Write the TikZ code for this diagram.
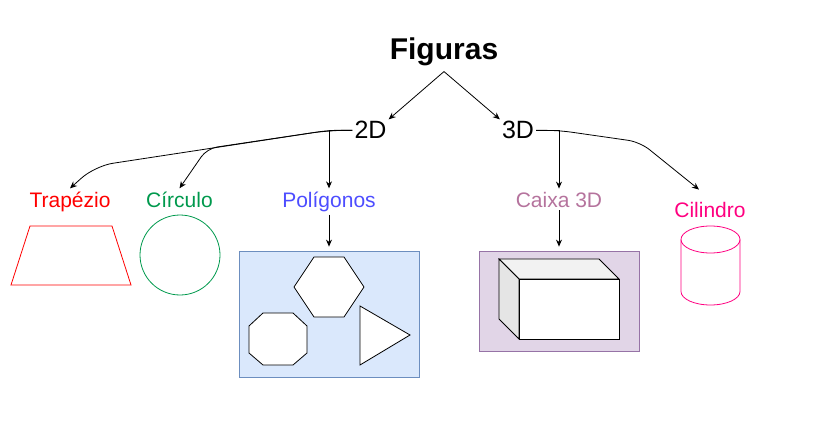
\documentclass[tikz,border=0pt]{standalone}
\usepackage{fontspec}
\setmainfont{Liberation Sans}
\usetikzlibrary{arrows.meta}

\definecolor{trapred}{HTML}{FF0000}
\definecolor{circgreen}{HTML}{00994D}
\definecolor{polyblue}{HTML}{4D4DFF}
\definecolor{boxpurple}{HTML}{B5739D}
\definecolor{cylpink}{HTML}{FF0080}
\definecolor{bluefill}{HTML}{DAE8FC}
\definecolor{bluedraw}{HTML}{6C8EBF}
\definecolor{purplefill}{HTML}{E1D5E7}
\definecolor{purpledraw}{HTML}{9673A6}

\tikzset{
    leaf/.style={inner sep=3pt, anchor=base, font=\fontsize{21}{25}\selectfont},
    branch/.style={inner sep=2pt, anchor=base, font=\fontsize{25}{29}\selectfont},
    conn/.style={line width=0.8pt, -{Stealth[length=7pt,width=6pt]}},
    outline/.style={line width=0.8pt, line join=miter},
    panel/.style={draw, line width=0.8pt, inner sep=0pt},
}

\begin{document}
\begin{tikzpicture}[x=1pt, y=-1pt]
    % Page frame
    \useasboundingbox (0,0) rectangle (820,444);

    % Title and the two branches
    \node[inner sep=5pt, anchor=base, font=\bfseries\fontsize{30}{34}\selectfont] (fig) at (444,60) {Figuras};
    \node[branch] (d2) at (370.5,139) {2D};
    \node[branch] (d3) at (518,139) {3D};

    % Leaves
    \node[leaf, text=trapred] (trap) at (70,207) {Trapézio};
    \node[leaf, text=circgreen] (circ) at (179.5,207) {Círculo};
    \node[leaf, text=polyblue] (pol) at (329,207) {Polígonos};
    \node[leaf, text=boxpurple] (cx) at (559,207) {Caixa 3D};
    \node[leaf, text=cylpink] (cil) at (710,217) {Cilindro};

    % Panels under the labels
    \node[panel, draw=bluedraw, fill=bluefill, minimum width=180pt, minimum height=126pt] (polybox) at (329,314) {};
    \node[panel, draw=purpledraw, fill=purplefill, minimum width=160pt, minimum height=100pt] (cxbox) at (559,301) {};

    % Junctions on the lines
    \coordinate (j2) at (pol.north |- d2.west);
    \coordinate (j3) at (cx.north |- d3.east);
    \coordinate (ktrap) at (95,166);
    \coordinate (kcirc) at (207,148.5);
    \coordinate (kcil) at (640,142);

    % Connectors
    \draw[conn] (fig.south) -- (d2.north east);
    \draw[conn] (fig.south) -- (d3.north west);
    \draw[conn, rounded corners=18pt] (d2.west) -- (j2) -- (ktrap) -- (trap.north);
    \draw[conn, rounded corners=10pt] (d2.west) -- (j2) -- (kcirc) -- (circ.north);
    \draw[conn] (d2.west) -- (j2) -- (pol.north);
    \draw[conn] (d3.east) -- (j3) -- (cx.north);
    \draw[conn, rounded corners=12pt] (d3.east) -- (j3) -- (kcil) -- ([shift={(-11,-9)}]cil.north);
    \draw[conn, shorten >=4pt] (pol.south) -- (polybox.north);
    \draw[conn, shorten >=4pt] (cx.south) -- (cxbox.north);

    % Trapezoid
    \draw[outline, trapred] (30,226) -- (112,226) -- (131,285) -- (11,285) -- cycle;

    % Circle
    \draw[outline, circgreen] (180,255) circle[radius=40];

    % Polygons in the blue panel
    \draw[outline, fill=white] (294,287) -- (314,257) -- (344,257) -- (364,287) -- (344,317) -- (314,317) -- cycle;
    \draw[outline, fill=white] (263,313) -- (293,313) -- (307,326) -- (307,353) -- (293,365) -- (263,365) -- (249,353) -- (249,326) -- cycle;
    \draw[outline, fill=white] (360,306) -- (410,335) -- (360,365) -- cycle;

    % Box in the purple panel
    \draw[outline, fill=black!5] (499,259) -- (599,259) -- (619,279) -- (519,279) -- cycle; % top face
    \draw[outline, fill=black!10] (499,259) -- (519,279) -- (519,339) -- (499,319) -- cycle; % side face
    \draw[outline, fill=white] (519,279) rectangle (619,339); % front face

    % Cylinder
    \draw[outline, cylpink] (710.5,239.5) ellipse[x radius=29.5, y radius=13.5];
    \draw[outline, cylpink] (681,239.5) -- (681,291.5) arc[start angle=180, end angle=0, x radius=29.5, y radius=13.5] -- (740,239.5);
\end{tikzpicture}
\end{document}
